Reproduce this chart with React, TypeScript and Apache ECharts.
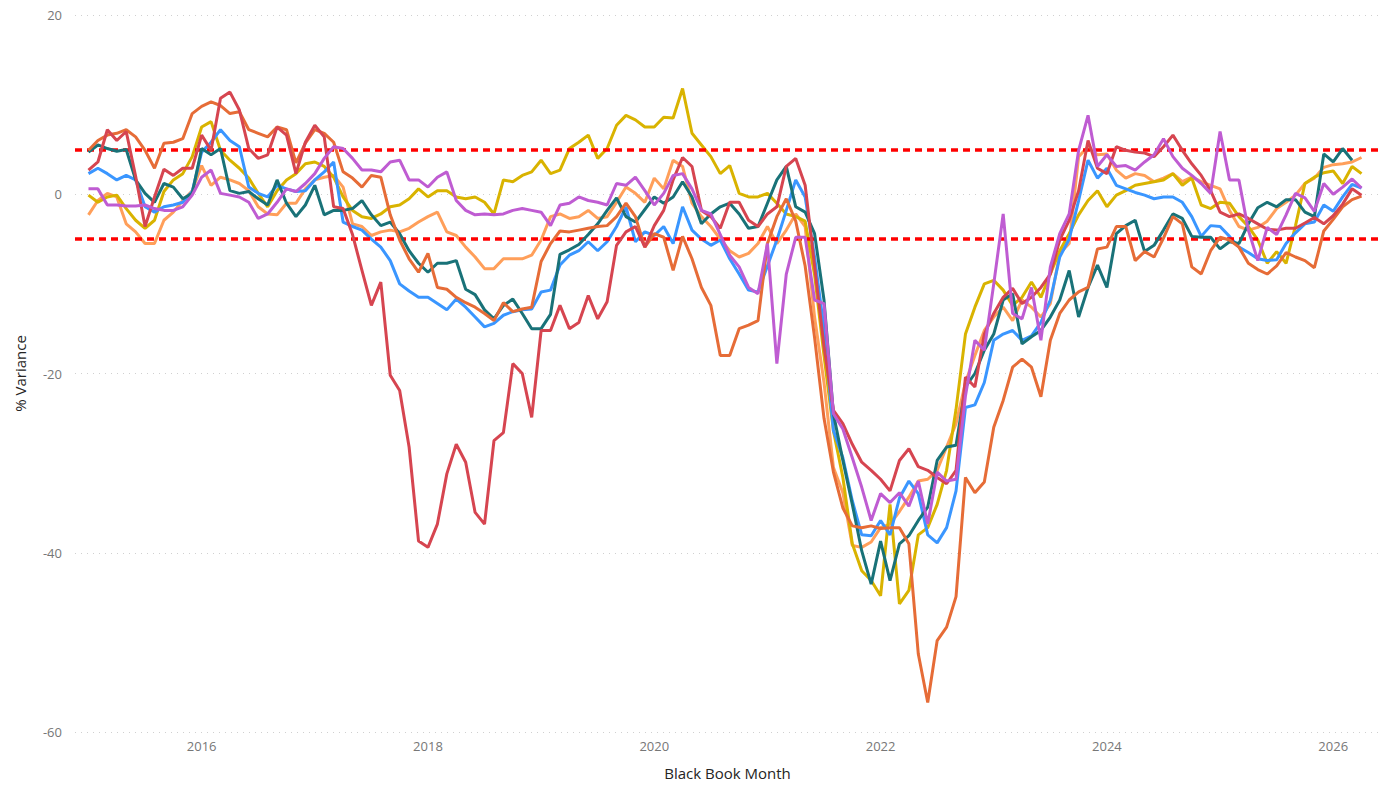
import React, { useEffect, useRef } from "react";
import * as echarts from "echarts";

// Monthly data, Jan 2015 .. Apr 2026 (136 months)
const START_YEAR = 2015;
const N_MONTHS = 136;
const months: string[] = Array.from({ length: N_MONTHS }, (_, i) =>
  `${START_YEAR + Math.floor(i / 12)}-${String((i % 12) + 1).padStart(2, "0")}`
);

const seriesNames = ["Series 1", "Series 2", "Series 3", "Series 4", "Series 5", "Series 6", "Series 7"];

const lightOrange = [
  -2.3, -0.7, 0.1, -0.3, -3.3, -4.2, -5.5, -5.5, -2.9, -2.0, -0.7, 0.4,
  3.2, 1.0, 1.9, 1.6, 1.2, 0.4, -1.4, -2.2, -2.3, -1.0, -1.0, 0.6,
  1.6, 1.9, 2.1, 0.8, -3.3, -3.6, -4.6, -4.2, -4.0, -4.2, -3.8, -3.1,
  -2.5, -2.0, -4.2, -4.6, -5.9, -7.0, -8.3, -8.3, -7.2, -7.2, -7.2, -6.8,
  -5.1, -2.5, -2.2, -2.7, -2.5, -1.8, -2.7, -2.5, -0.9, 0.8, 0.1, -0.9,
  1.8, 0.6, 3.8, 3.1, -1.0, -2.5, -3.6, -5.0, -6.3, -7.0, -6.6, -5.5,
  -3.6, -5.5, -4.0, -2.2, -3.6, -13.7, -21.0, -30.5, -33.3, -39.2, -39.4, -38.8,
  -37.2, -36.8, -35.4, -33.8, -32.0, -31.8, -30.8, -28.2, -25.6, -21.0, -18.0, -15.2,
  -13.7, -12.6, -14.1, -11.8, -12.6, -13.7, -12.2, -6.6, -5.5, 4.2, 5.3, 4.4,
  4.5, 2.7, 1.8, 2.3, 2.1, 1.4, 1.8, 2.3, 1.4, 1.9, 1.4, 1.0,
  0.6, -1.8, -3.6, -4.0, -3.7, -3.0, -1.6, -0.9, -0.1, 1.2, 1.8, 3.0,
  3.3, 3.4, 3.6, 4.1,
];

const gold = [
  -0.1, -0.9, -0.3, -0.1, -1.6, -2.9, -3.8, -2.9, 0.3, 1.6, 2.3, 4.2,
  7.5, 8.1, 4.9, 3.8, 2.9, 1.8, 0.1, -1.4, 0.4, 1.6, 2.3, 3.4,
  3.6, 3.1, 1.9, -0.3, -1.8, -2.5, -2.7, -2.2, -1.4, -1.2, -0.5, 0.6,
  -0.3, 0.4, 0.4, -0.3, -0.5, -0.3, -0.9, -2.2, 1.6, 1.4, 2.1, 2.5,
  3.8, 2.3, 2.7, 5.1, 5.8, 6.6, 4.0, 5.1, 7.7, 8.8, 8.3, 7.5,
  7.5, 8.6, 8.5, 11.8, 6.8, 5.5, 4.2, 2.3, 3.2, 0.1, -0.3, -0.3,
  0.1, -1.0, -2.2, -2.5, -3.0, -9.0, -18.0, -26.4, -31.6, -39.0, -42.0, -43.1,
  -44.8, -34.6, -45.7, -44.2, -38.0, -37.2, -34.6, -30.8, -24.0, -15.6, -12.6, -10.0,
  -9.6, -10.7, -12.4, -11.5, -9.8, -11.5, -8.9, -6.3, -4.4, -2.3, -0.7, 0.4,
  -1.4, -0.1, 0.4, 1.0, 1.2, 1.4, 1.6, 2.3, 1.0, 1.8, -1.2, -1.6,
  -0.9, -1.0, -2.5, -3.6, -5.1, -7.7, -6.4, -7.7, -3.5, 1.2, 1.9, 2.4,
  2.6, 1.2, 3.1, 2.3,
];

const blue = [
  2.3, 2.9, 2.3, 1.6, 2.1, 1.6, -1.4, -2.0, -1.4, -1.2, -0.9, 0.3,
  4.7, 5.8, 7.2, 6.0, 5.3, 0.8, 0.1, -0.3, 1.0, 0.6, 0.3, 0.4,
  1.6, 2.5, 3.6, -3.1, -3.6, -4.0, -5.0, -5.9, -7.4, -10.0, -10.8, -11.5,
  -11.5, -12.2, -12.9, -11.7, -12.6, -13.7, -14.8, -14.4, -13.5, -13.1, -12.9, -12.8,
  -10.9, -10.7, -7.9, -6.8, -6.3, -5.3, -6.3, -5.3, -3.6, -1.4, -5.3, -4.2,
  -4.6, -3.6, -5.5, -1.4, -4.0, -5.0, -5.7, -5.1, -7.2, -8.9, -10.7, -10.9,
  -8.0, -5.1, -1.8, 1.6, -0.3, -7.0, -15.0, -26.4, -29.4, -34.2, -38.0, -38.1,
  -36.4, -38.0, -33.9, -32.0, -33.4, -38.0, -38.9, -37.2, -33.1, -23.8, -23.5, -21.0,
  -16.3, -15.6, -15.2, -16.3, -15.8, -14.3, -11.8, -7.0, -5.0, -0.7, 3.8, 1.8,
  2.9, 1.0, 0.6, 0.2, -0.1, -0.5, -0.3, -0.3, -0.9, -2.5, -4.7, -3.5,
  -3.6, -4.7, -5.9, -6.5, -7.2, -7.4, -7.3, -5.5, -4.3, -3.3, -3.1, -1.2,
  -1.9, -0.3, 1.1, 0.7,
];

const teal = [
  4.7, 5.5, 5.1, 4.8, 5.0, 1.6, 0.1, -0.9, 1.2, 0.8, -0.5, 0.1,
  5.1, 4.4, 5.1, 0.4, 0.1, 0.3, -0.5, -1.2, 1.6, -1.0, -2.5, -1.2,
  1.0, -2.3, -1.8, -1.8, -1.6, -0.7, -2.3, -3.5, -3.1, -4.4, -6.3, -7.7,
  -8.7, -7.7, -7.7, -7.4, -10.6, -11.2, -12.9, -13.9, -12.4, -11.7, -13.3, -15.0,
  -15.0, -13.4, -6.7, -6.2, -5.6, -4.5, -3.3, -1.8, -0.4, -2.5, -3.1, -1.7,
  -0.3, -1.0, -0.3, 1.4, -0.3, -3.3, -2.2, -1.4, -1.0, -2.2, -3.8, -3.6,
  -1.0, 1.6, 3.1, -1.4, -2.0, -4.4, -11.8, -24.5, -29.7, -34.6, -39.8, -43.5,
  -38.7, -43.1, -39.0, -38.1, -36.4, -34.9, -29.7, -28.2, -28.0, -21.5, -20.0, -17.4,
  -15.6, -11.8, -11.1, -16.7, -15.9, -15.2, -13.7, -11.8, -8.5, -13.7, -10.4, -7.9,
  -10.4, -4.4, -3.5, -2.9, -6.4, -5.7, -4.0, -2.2, -2.7, -4.7, -4.8, -4.8,
  -6.1, -5.3, -5.5, -3.3, -1.5, -0.9, -1.4, -0.6, -0.6, -2.0, -2.5, 4.5,
  3.6, 5.1, 3.8, null,
];

const darkOrange = [
  4.9, 6.0, 6.6, 6.8, 7.2, 6.4, 4.9, 2.9, 5.7, 5.8, 6.2, 9.0,
  9.8, 10.3, 9.9, 9.0, 9.2, 7.2, 6.8, 6.4, 7.5, 7.2, 3.5, 5.7,
  7.2, 6.8, 5.8, 2.5, 1.8, 0.8, 2.1, 1.9, -2.3, -5.1, -7.2, -8.7,
  -6.6, -10.4, -10.6, -11.5, -12.1, -12.6, -13.3, -14.1, -12.1, -13.1, -12.8, -12.6,
  -7.5, -5.5, -4.1, -4.2, -4.0, -3.8, -3.6, -3.5, -2.5, -1.0, -2.5, -5.9,
  -4.4, -4.8, -8.5, -4.7, -7.2, -10.4, -12.4, -18.0, -18.0, -15.0, -14.6, -14.1,
  -5.5, -2.5, -0.5, -3.0, -8.0, -16.0, -25.0, -31.0, -35.0, -37.0, -37.2, -37.0,
  -37.3, -37.2, -37.2, -39.0, -51.3, -56.7, -49.8, -48.3, -44.9, -31.6, -33.3, -32.1,
  -26.0, -23.0, -19.3, -18.4, -19.3, -22.6, -16.3, -13.3, -11.8, -10.9, -10.4, -6.1,
  -5.9, -3.6, -3.6, -7.4, -6.4, -7.0, -4.9, -2.5, -3.3, -8.1, -8.9, -6.3,
  -4.8, -5.1, -5.9, -7.7, -8.4, -8.9, -8.0, -6.5, -7.0, -7.4, -8.2, -4.1,
  -2.8, -1.4, -0.6, -0.2,
];

const red = [
  2.7, 3.6, 7.2, 6.0, 7.0, 2.0, -3.6, -0.3, 2.8, 2.1, 2.9, 2.9,
  6.6, 4.9, 10.7, 11.4, 9.4, 5.1, 4.0, 4.4, 7.5, 6.6, 2.3, 5.8,
  7.7, 6.4, -1.4, -1.6, -4.5, -8.5, -12.4, -9.8, -20.2, -21.9, -28.2, -38.7,
  -39.4, -36.8, -31.2, -27.9, -29.9, -35.5, -36.8, -27.5, -26.6, -18.9, -20.0, -24.9,
  -15.2, -15.2, -12.4, -15.0, -14.3, -11.3, -13.9, -12.0, -5.7, -4.2, -3.6, -5.9,
  -3.5, -1.8, 1.6, 4.1, 3.1, -1.8, -2.5, -3.8, -0.9, -0.9, -2.9, -3.6,
  -2.2, -1.4, 3.1, 4.0, 1.0, -8.0, -17.0, -24.1, -25.6, -27.9, -29.9, -30.8,
  -31.8, -33.1, -29.7, -28.4, -30.4, -30.8, -31.6, -32.3, -30.8, -20.4, -21.5, -15.6,
  -13.3, -11.5, -10.5, -12.2, -11.5, -10.4, -8.9, -5.1, -2.9, 0.4, 6.0, 2.9,
  2.3, 5.3, 4.9, 4.7, 4.6, 4.2, 5.3, 6.6, 4.9, 3.4, 2.1, 0.4,
  -2.0, -2.5, -2.2, -2.7, -3.3, -3.9, -4.0, -3.8, -3.8, -3.2, -2.6, -3.3,
  -2.4, -1.1, 0.6, -0.1,
];

const purple = [
  0.6, 0.6, -1.2, -1.2, -1.3, -1.3, -1.2, -1.6, -1.8, -1.8, -1.4, -0.1,
  1.9, 2.7, 0.1, -0.1, -0.3, -0.9, -2.7, -2.2, -0.9, 0.6, 0.3, 1.2,
  2.3, 4.0, 5.3, 5.1, 4.0, 2.7, 2.7, 2.5, 3.6, 3.8, 1.6, 1.6,
  0.8, 1.9, 2.5, -0.7, -1.8, -2.3, -2.2, -2.3, -2.2, -1.8, -1.6, -1.8,
  -2.0, -3.5, -1.2, -1.0, -0.3, -0.7, -0.9, -1.2, 1.2, 1.0, 1.9, 0.4,
  -1.2, 0.1, 2.1, 2.3, 0.6, -1.8, -2.2, -4.5, -6.8, -8.1, -10.4, -11.1,
  -5.5, -18.9, -8.9, -4.8, -4.8, -11.8, -12.2, -24.5, -26.2, -29.4, -32.7, -36.4,
  -33.4, -34.4, -33.3, -34.8, -32.0, -36.8, -31.0, -32.0, -31.8, -22.5, -16.3, -17.4,
  -10.0, -2.2, -13.3, -13.9, -10.4, -16.3, -8.1, -4.4, -2.2, 4.9, 8.8, 3.1,
  4.4, 3.1, 3.2, 2.7, 3.6, 4.4, 6.2, 4.2, 2.9, 2.1, 1.2, 0.1,
  7.0, 1.6, 1.6, -4.0, -7.4, -3.7, -4.5, -2.3, 0.1, -0.4, -1.9, 1.2,
  0.0, 0.8, 1.7, 0.7,
];

const seriesValues = [lightOrange, gold, blue, teal, darkOrange, red, purple];
const seriesColors = ["#FF9F5A", "#D9B300", "#3A96FF", "#197278", "#E66C37", "#D64550", "#BF5CD2"];

const xTickYears = [2016, 2018, 2020, 2022, 2024, 2026];
const thresholds = [5, -5];
const yMin = -60;
const yMax = 20;
const yStep = 20;

export default function App() {
  const ref = useRef<HTMLDivElement>(null);

  useEffect(() => {
    if (!ref.current) return;
    const chart = echarts.init(ref.current, undefined, { renderer: "svg" });

    const lineSeries = seriesValues.map((vals, k) => ({
      name: seriesNames[k],
      type: "line",
      data: vals.map((v, i) => [i, v]),
      symbol: "none",
      showSymbol: false,
      connectNulls: false,
      lineStyle: { width: 3, color: seriesColors[k] },
      itemStyle: { color: seriesColors[k] },
      z: 2 + k,
    }));

    const thresholdSeries = {
      name: "thresholds",
      type: "line",
      data: [],
      z: 20,
      markLine: {
        silent: true,
        symbol: ["none", "none"],
        label: { show: false },
        lineStyle: { color: "#FF0000", width: 3.5, type: [7, 5] },
        data: thresholds.map((t) => ({ yAxis: t })),
      },
    };

    const font = "Open Sans, Noto Sans, sans-serif";

    chart.setOption({
      animation: false,
      backgroundColor: "#ffffff",
      grid: { left: 75, right: 3, top: 15, bottom: 47, containLabel: false },
      xAxis: {
        type: "value",
        min: -1.43,
        max: 136.96,
        name: "Black Book Month",
        nameLocation: "middle",
        nameGap: 33,
        nameTextStyle: { color: "#252423", fontSize: 15, fontFamily: font },
        axisLine: { show: false },
        axisTick: { show: false },
        splitLine: { show: false },
        axisLabel: {
          customValues: xTickYears.map((y) => (y - START_YEAR) * 12),
          formatter: (v: number) => String(START_YEAR + Math.round(v / 12)),
          color: "#777777",
          fontSize: 13,
          margin: 7,
          fontFamily: font,
        },
      },
      yAxis: {
        type: "value",
        min: yMin,
        max: yMax,
        interval: yStep,
        name: "% Variance",
        nameLocation: "middle",
        nameGap: 48,
        nameTextStyle: { color: "#252423", fontSize: 15, fontFamily: font },
        axisLine: { show: false },
        axisTick: { show: false },
        axisLabel: { color: "#777777", fontSize: 13, margin: 13, fontFamily: font },
        splitLine: { show: true, lineStyle: { color: "#D0D0D0", type: [1, 5], width: 1 } },
      },
      series: [...lineSeries, thresholdSeries],
    });

    return () => {
      chart.dispose();
    };
  }, []);

  return (
    <div
      ref={ref}
      style={{ position: "fixed", left: 0, top: 0, width: 1383, height: 785, background: "#fff" }}
      data-months={months.length}
    />
  );
}
